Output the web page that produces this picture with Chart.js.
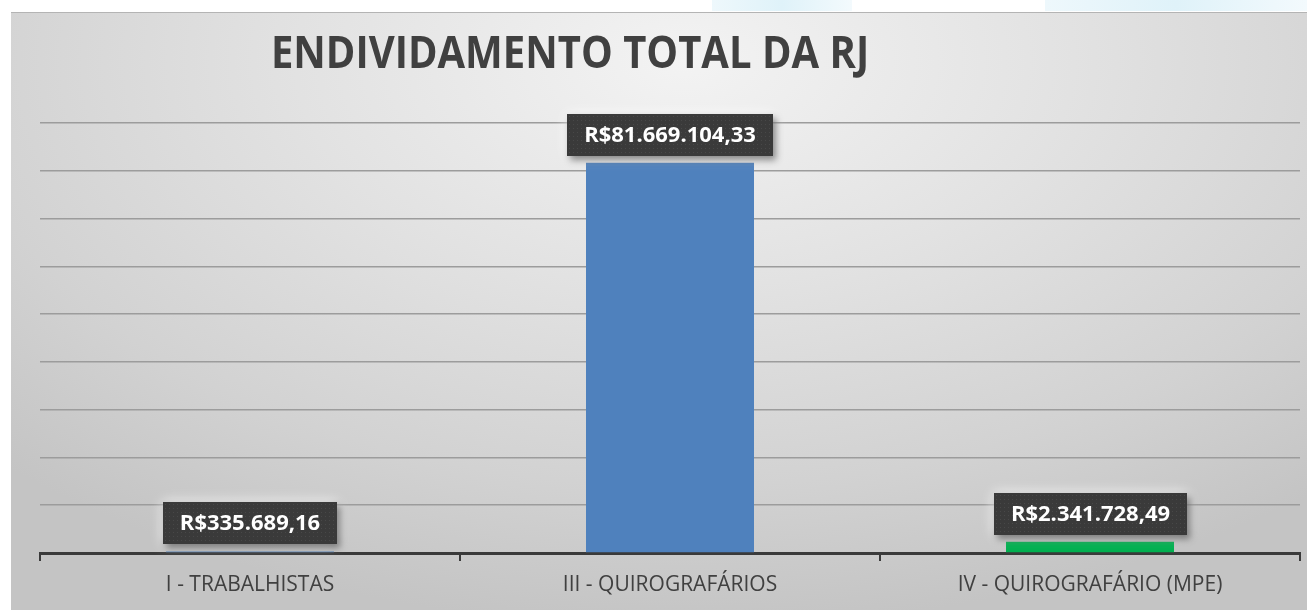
<!DOCTYPE html>
<html lang="pt-BR">
  <head>
    <meta charset="UTF-8" />
    <title>Endividamento total da RJ</title>
    <script src="https://cdn.jsdelivr.net/npm/chart.js@4.4.1/dist/chart.umd.min.js"></script>
    <style>
      html,
      body {
        margin: 0;
        padding: 0;
        background: #ffffff;
        overflow: hidden;
      }
      #frame {
        position: absolute;
        left: 11px;
        top: 12px;
        width: 1296px;
        height: 598px;
        border-top: 1px solid #b4b4b4;
        box-sizing: border-box;
        background: radial-gradient(
          ellipse 75% 95% at 52% 8%,
          #f3f3f3 0%,
          #e2e2e2 40%,
          #d2d2d2 75%,
          #c4c4c4 100%
        );
      }
      .glow {
        position: absolute;
        top: 0;
        height: 11px;
        background: linear-gradient(90deg, #eef8fc, #dff2f9, #f3fafd);
      }
      #chart {
        position: absolute;
        left: 0;
        top: 0;
      }
    </style>
  </head>
  <body>
    <div class="glow" style="left: 712px; width: 140px"></div>
    <div class="glow" style="left: 1045px; width: 262px"></div>
    <div id="frame"></div>
    <canvas id="chart" width="1307" height="610"></canvas>

    <script>
      const categories = [
        "I - TRABALHISTAS",
        "III - QUIROGRAFÁRIOS",
        "IV - QUIROGRAFÁRIO (MPE)",
      ];
      const values = [335689.16, 81669104.33, 2341728.49];
      const barColors = ["#4f81bd", "#4f81bd", "#00b050"];
      const yMax = 90000000;
      const yStep = 10000000;
      const title = "ENDIVIDAMENTO TOTAL DA RJ";

      // R$81.669.104,33
      function formatBRL(v) {
        const [int, dec] = v.toFixed(2).split(".");
        const withDots = int.replace(/\B(?=(\d{3})+(?!\d))/g, ".");
        return "R$" + withDots + "," + dec;
      }

      const titlePlugin = {
        id: "titleText",
        beforeDraw(chart) {
          const ctx = chart.ctx;
          ctx.save();
          ctx.font = 'bold 40px "Open Sans"';
          ctx.fillStyle = "#404040";
          ctx.textAlign = "center";
          ctx.textBaseline = "middle";
          // slightly taller, like the original
          ctx.translate(570, 55);
          ctx.scale(1.0, 1.1);
          ctx.fillText(title, 0, 0);
          ctx.restore();
        },
      };

      const labelPlugin = {
        id: "valueBoxes",
        afterDatasetsDraw(chart) {
          const ctx = chart.ctx;
          const meta = chart.getDatasetMeta(0);
          ctx.save();
          ctx.font = 'bold 22px "Open Sans"';
          meta.data.forEach((bar, i) => {
            const text = formatBRL(values[i]);
            const w = Math.round(ctx.measureText(text).width + 34);
            const h = 42;
            const x = Math.round(bar.x - w / 2);
            const y = Math.round(bar.y - 7 - h);

            // soft light halo
            ctx.shadowColor = "rgba(255,255,255,0.9)";
            ctx.shadowBlur = 12;
            ctx.shadowOffsetX = 0;
            ctx.shadowOffsetY = 0;
            ctx.fillStyle = "#3a3a3a";
            ctx.fillRect(x, y, w, h);

            // drop shadow
            ctx.shadowColor = "rgba(0,0,0,0.45)";
            ctx.shadowBlur = 7;
            ctx.shadowOffsetX = 3;
            ctx.shadowOffsetY = 4;
            ctx.fillRect(x, y, w, h);
            ctx.shadowColor = "transparent";

            // dotted texture
            ctx.fillStyle = "#484848";
            for (let dy = 2; dy < h; dy += 4) {
              for (let dx = 2; dx < w; dx += 4) {
                ctx.fillRect(x + dx, y + dy, 1, 1);
              }
            }

            ctx.fillStyle = "#ffffff";
            ctx.textAlign = "center";
            ctx.textBaseline = "middle";
            ctx.fillText(text, x + w / 2, y + h / 2 + 1);
          });
          ctx.restore();
        },
      };

      new Chart(document.getElementById("chart"), {
        type: "bar",
        data: {
          labels: categories,
          datasets: [
            {
              data: values,
              backgroundColor: barColors,
              borderWidth: 0,
              barPercentage: 0.4,
              categoryPercentage: 1.0,
            },
          ],
        },
        options: {
          responsive: false,
          animation: false,
          layout: {
            padding: { left: 40, right: 7, top: 123, bottom: 7 },
          },
          plugins: {
            legend: { display: false },
            tooltip: { enabled: false },
            title: { display: false },
          },
          scales: {
            x: {
              afterFit(scale) {
                scale.height = 50;
              },
              grid: {
                display: true,
                offset: true,
                drawOnChartArea: false,
                drawTicks: true,
                tickLength: 8,
                color: "#3a3a3a",
                lineWidth: 2,
              },
              border: { display: true, color: "#3a3a3a", width: 3 },
              ticks: {
                color: "#404040",
                padding: 11,
                font: { family: "Open Sans", size: 21 },
              },
            },
            y: {
              min: 0,
              max: yMax,
              ticks: { display: false, stepSize: yStep },
              grid: {
                color: "#9c9c9c",
                lineWidth: 1.5,
                drawTicks: false,
              },
              border: { display: false },
            },
          },
        },
        plugins: [titlePlugin, labelPlugin],
      });
    </script>
  </body>
</html>
